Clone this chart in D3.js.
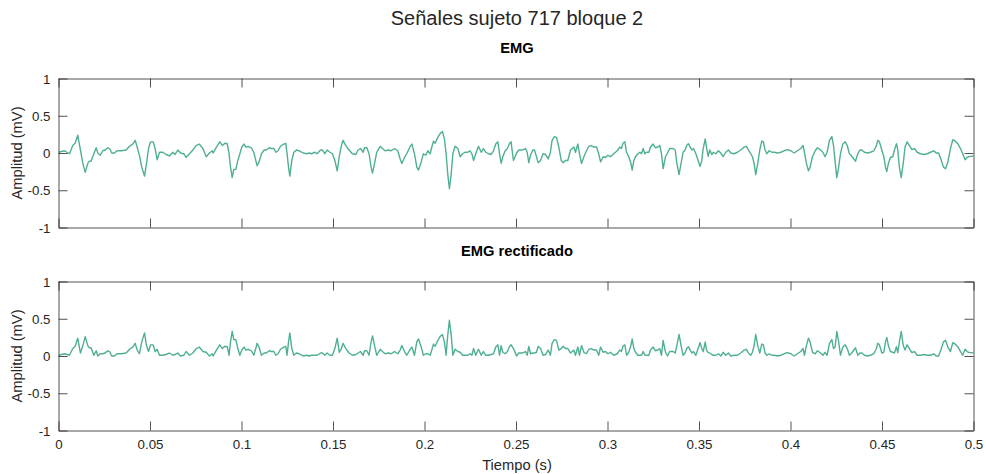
<!DOCTYPE html>
<html>
<head>
<meta charset="utf-8">
<script src="https://cdn.jsdelivr.net/npm/d3@7/dist/d3.min.js"></script>
<style>
  html, body { margin: 0; padding: 0; background: #fff; }
  svg { display: block; font-family: "Liberation Sans", Arial, Helvetica, sans-serif; }
</style>
</head>
<body>
<svg id="chart" width="986" height="474"></svg>
<script>
// Raw EMG trace: sample times (ms) and amplitude (mV)
const tMs = [
  0, 3.3, 6.0, 7.8, 9.1, 10.5, 12.0, 13.3, 14.6, 16.0, 16.9, 17.8, 19.3, 20.6, 21.5, 22.8, 24.2, 25.5, 26.9, 27.9,
  29.1, 30.6, 32.0, 34.2, 37.0, 38.8, 40.6, 41.9, 43.0, 44.2, 45.5, 47.0, 48.1, 49.2, 50.3, 51.7, 52.8, 53.9, 55.2, 57.0,
  58.8, 60.6, 62.5, 63.7, 65.2, 66.7, 68.5, 69.7, 71.6, 73.4, 75.2, 77.0, 78.9, 80.7, 82.5, 84.0,
  84.5, 86.3, 88.1, 89.6, 90.9, 92.2, 93.2, 94.0, 94.9, 95.8, 96.9, 98.0, 99.1, 100.2, 101.4, 102.4, 103.6, 105.4, 106.7, 107.8,
  108.5, 109.6, 110.9, 112.4, 113.6, 115.1, 116.4, 117.7, 118.7, 120.0, 121.3, 123.1, 124.2, 124.9, 125.7, 126.4, 127.5, 128.6, 130.0, 131.5,
  133.7, 135.5, 137.0, 138.2, 140.1, 141.3, 143.2, 144.2, 145.5, 146.8, 148.3, 149.7, 151.0, 152.3, 153.4, 154.6, 155.5, 157.0, 158.8, 160.6,
  162.5, 163.7, 165.0, 166.5,
  167.2, 168.5, 169.7, 170.8, 171.6, 172.7, 173.9, 175.8, 177.0, 178.5, 180.3, 181.8, 183.6, 185.4, 186.7, 187.6, 189.1, 190.3, 192.2, 193.1,
  194.5, 195.8, 196.7, 198.2, 199.4, 200.7, 201.8, 203.1, 204.0, 204.9, 205.8, 207.3, 208.5, 209.8, 210.9, 211.8, 212.7, 213.6, 214.6, 215.5,
  216.7, 218.2, 219.5, 220.8, 222.2, 223.7, 224.9, 225.9, 226.8, 228.0, 229.5, 231.0, 232.2, 233.5, 235.0, 236.4, 237.7, 239.0, 240.1, 241.0,
  241.9, 242.8, 244.1, 245.3, 246.4, 247.3, 248.6, 249.5,
  250.3, 251.5, 253.4, 255.2, 256.1, 257.0, 257.9, 259.2, 260.1, 261.2, 262.1, 263.4, 264.8, 266.1, 267.6, 268.8, 269.7, 271.0, 272.1, 273.4,
  274.7, 275.8, 277.0, 278.3, 279.8, 280.7, 281.6, 282.5, 283.8, 284.7, 285.8, 287.1, 288.5, 289.8, 291.1, 292.5, 294.0, 295.2, 296.2, 297.6,
  298.9, 300.2, 301.6, 303.4, 305.3, 306.7, 307.6, 308.5, 309.5, 310.4, 311.6, 312.6, 313.5, 314.4, 315.3, 316.6, 317.7, 318.6, 319.5, 320.4,
  321.3, 322.6, 323.5, 324.9, 326.2, 327.5, 328.6, 329.5, 330.4, 331.7,
  332.8, 334.0, 335.9, 337.0, 337.9, 339.1, 340.2, 341.3, 342.4, 343.3, 344.2, 345.2, 346.1, 347.0, 348.3, 349.5, 350.6, 351.5, 352.3, 353.4,
  354.1, 355.0, 355.9, 357.0, 357.9, 359.2, 360.6, 361.9, 363.2, 364.6, 366.1, 367.4, 369.2, 371.0, 372.8, 374.7, 375.9, 377.0, 378.3, 379.2,
  380.1, 381.0, 382.1, 383.2, 384.3, 385.2, 386.1, 387.1, 388.3, 389.8, 391.1, 392.9, 394.7, 396.5, 398.3, 400.2, 402.0, 403.8, 405.6, 406.9,
  407.6, 408.7, 409.8, 410.7, 412.0, 413.5, 414.7,
  416.4, 417.7, 418.9, 420.0, 421.3, 422.6, 423.5, 424.4, 425.3, 426.2, 427.3, 428.6, 429.9, 431.0, 432.2, 433.1, 434.6, 435.5, 436.8, 437.9,
  439.0, 440.4, 441.9, 443.7, 445.5, 446.8, 447.7, 448.6, 449.9, 451.0, 451.9, 452.6, 453.5, 454.6, 455.9, 456.8, 457.9, 458.6, 459.5, 460.5,
  461.6, 462.6, 463.7, 465.0, 466.3, 467.7, 469.2, 471.0, 472.8, 474.7, 476.5, 478.3, 479.6, 480.9, 482.3, 483.6, 484.7, 486.0, 487.4, 488.7,
  490.0, 491.4, 492.9, 494.1, 495.4, 496.5, 497.8, 498.7, 500.0
];
const emgMv = [
  0.01, 0.03, -0.01, 0.10, 0.13, 0.24, 0.04, -0.14, -0.26, -0.14, -0.11, -0.11, -0.01, 0.07, 0.00, -0.03, 0.03, 0.04, 0.07, 0.06,
  0.00, 0.00, 0.03, 0.03, 0.04, 0.09, 0.12, 0.17, 0.08, -0.03, -0.19, -0.31, -0.14, 0.06, 0.15, 0.15, 0.06, -0.09, 0.01, 0.01,
  -0.02, -0.04, 0.01, -0.02, 0.04, 0.00, -0.01, -0.06, -0.01, 0.04, 0.10, 0.12, 0.06, -0.05, 0.00, 0.03,
  0.00, 0.08, 0.15, 0.10, 0.13, 0.125, -0.01, -0.19, -0.33, -0.22, -0.22, -0.10, -0.01, 0.08, 0.12, 0.08, 0.09, 0.07, 0.01, -0.10,
  -0.17, -0.12, -0.01, 0.04, 0.04, 0.07, 0.06, 0.06, 0.01, 0.03, 0.09, 0.12, 0.13, -0.01, -0.19, -0.31, -0.10, 0.01, 0.04, 0.03,
  0.00, -0.01, 0.00, -0.01, 0.01, -0.01, 0.04, 0.04, -0.01, 0.04, 0.01, -0.01, -0.10, -0.24, -0.05, 0.10, 0.17, 0.10, 0.04, -0.01,
  -0.02, 0.04, 0.06, 0.01,
  0.07, 0.07, -0.01, -0.19, -0.27, -0.14, 0.01, 0.09, 0.06, 0.03, 0.04, 0.03, 0.06, 0.03, -0.08, -0.14, -0.06, -0.01, 0.09, 0.12,
  -0.01, -0.19, -0.23, -0.12, -0.01, -0.03, 0.03, -0.01, 0.08, 0.16, 0.13, 0.21, 0.26, 0.29, 0.19, -0.01, -0.28, -0.48, -0.28, -0.01,
  0.09, 0.06, -0.05, -0.01, 0.01, 0.01, 0.03, -0.01, -0.10, -0.01, 0.09, 0.01, 0.06, 0.01, -0.01, -0.02, 0.03, 0.125, 0.15, -0.01,
  -0.14, -0.05, 0.03, 0.06, 0.125, 0.15, -0.10, -0.05,
  0.00, 0.04, 0.04, 0.06, 0.01, -0.13, -0.03, 0.04, 0.04, -0.05, -0.13, -0.10, -0.01, -0.02, -0.08, 0.01, 0.17, 0.22, 0.21, 0.08,
  -0.10, -0.13, -0.10, -0.10, 0.04, 0.06, 0.08, 0.01, 0.12, -0.01, -0.14, -0.05, 0.03, 0.09, 0.10, 0.08, 0.08, -0.01, -0.12, -0.05,
  -0.06, -0.03, -0.05, -0.01, 0.03, 0.08, 0.06, 0.134, 0.15, 0.01, -0.05, -0.12, -0.23, -0.10, -0.05, -0.01, 0.01, -0.01, 0.06, -0.01,
  0.01, 0.01, 0.08, 0.12, 0.07, 0.08, 0.10, -0.01, -0.21, -0.05,
  0.00, 0.06, 0.06, 0.04, -0.14, -0.29, -0.14, 0.01, 0.04, 0.10, 0.125, 0.08, 0.04, 0.06, -0.01, -0.10, -0.18, -0.10, 0.06, 0.19,
  0.08, -0.045, 0.04, -0.02, 0.01, -0.01, 0.03, 0.00, -0.05, 0.01, 0.04, 0.00, -0.01, 0.01, 0.04, 0.08, 0.09, 0.04, -0.01, -0.05,
  -0.14, -0.29, -0.14, 0.04, 0.16, 0.15, 0.04, -0.01, 0.03, 0.01, 0.01, 0.00, 0.01, 0.03, 0.045, 0.03, 0.00, 0.03, 0.06, 0.10,
  0.01, -0.14, -0.24, -0.19, -0.05, 0.03, 0.07,
  0.04, 0.01, -0.05, 0.01, 0.17, 0.22, 0.10, -0.12, -0.33, -0.21, -0.01, 0.12, 0.15, 0.10, -0.01, -0.03, -0.08, -0.11, -0.01, 0.04,
  0.04, 0.01, 0.00, 0.01, 0.03, 0.09, 0.17, 0.15, 0.04, -0.05, -0.19, -0.25, -0.14, -0.06, -0.05, 0.04, 0.125, 0.045, -0.19, -0.33,
  -0.14, 0.08, 0.15, 0.10, 0.045, 0.06, 0.01, -0.01, -0.02, -0.01, 0.01, 0.03, 0.00, 0.00, -0.09, -0.19, -0.21, -0.12, 0.06, 0.18,
  0.16, 0.125, 0.06, -0.01, -0.09, -0.06, -0.045, -0.045, -0.04
];

// Axis ticks
const xTicks = [0, 0.05, 0.1, 0.15, 0.2, 0.25, 0.3, 0.35, 0.4, 0.45, 0.5];
const yTicks = [-1, -0.5, 0, 0.5, 1];

const mainTitle = "Señales sujeto 717 bloque 2";
const panelTitles = ["EMG", "EMG rectificado"];
const yLabel = "Amplitud (mV)";
const xLabel = "Tiempo (s)";

// Build sample tables: the rectified channel is |EMG|
const raw = tMs.map((t, i) => ({ t: t / 1000, v: emgMv[i] }));
const rect = raw.map(d => ({ t: d.t, v: Math.abs(d.v) }));

const svg = d3.select("#chart");
const left = 58.5, right = 973.5;
const panels = [
  { top: 78.5, bottom: 227.5, data: raw, title: panelTitles[0], xLabels: false },
  { top: 281.5, bottom: 430.5, data: rect, title: panelTitles[1], xLabels: true }
];

const x = d3.scaleLinear().domain([0, 0.5]).range([left, right]);
const lineColor = "#4faf95";
const axisColor = "#262626";
const tickLen = 9;
const fmt = d => String(+d.toFixed(2));

svg.append("text")
  .attr("x", (left + right) / 2 + 1)
  .attr("y", 25)
  .attr("text-anchor", "middle")
  .attr("font-size", 20)
  .attr("fill", "#262626")
  .text(mainTitle);

panels.forEach((p, idx) => {
  const y = d3.scaleLinear().domain([-1, 1]).range([p.bottom, p.top]);
  const g = svg.append("g");

  const clipId = "clip" + idx;
  g.append("clipPath").attr("id", clipId)
    .append("rect")
    .attr("x", left).attr("y", p.top)
    .attr("width", right - left).attr("height", p.bottom - p.top);

  const line = d3.line().x(d => x(d.t)).y(d => y(d.v));
  g.append("path")
    .datum(p.data)
    .attr("clip-path", `url(#${clipId})`)
    .attr("fill", "none")
    .attr("stroke", lineColor)
    .attr("stroke-width", 1.4)
    .attr("stroke-linejoin", "round")
    .attr("d", line);

  // Bottom and left axes (inward ticks)
  const xAxis = d3.axisBottom(x).tickValues(xTicks).tickSizeInner(-tickLen).tickSizeOuter(0)
    .tickPadding(9).tickFormat(p.xLabels ? fmt : () => "");
  const gx = g.append("g").attr("transform", `translate(0,${p.bottom})`).call(xAxis);
  const yAxis = d3.axisLeft(y).tickValues(yTicks).tickSizeInner(-tickLen).tickSizeOuter(0)
    .tickPadding(8).tickFormat(fmt);
  const gy = g.append("g").attr("transform", `translate(${left},0)`).call(yAxis);

  // Top and right axes of the box
  const xTop = d3.axisTop(x).tickValues(xTicks).tickSizeInner(-tickLen).tickSizeOuter(0).tickFormat(() => "");
  const gxt = g.append("g").attr("transform", `translate(0,${p.top})`).call(xTop);
  const yRight = d3.axisRight(y).tickValues(yTicks).tickSizeInner(-tickLen).tickSizeOuter(0).tickFormat(() => "");
  const gyr = g.append("g").attr("transform", `translate(${right},0)`).call(yRight);

  [gx, gy, gxt, gyr].forEach(a => {
    a.select(".domain").attr("stroke", axisColor).attr("stroke-width", 0.8);
    a.selectAll(".tick line").attr("stroke", axisColor).attr("stroke-width", 0.8);
    a.selectAll(".tick text")
      .attr("fill", axisColor)
      .attr("font-size", 13.3)
      .attr("font-family", "\"Liberation Sans\", Arial, sans-serif");
  });
  gy.selectAll(".tick text").attr("dy", "0.35em");

  g.append("text")
    .attr("x", (left + right) / 2 + 1)
    .attr("y", p.top - 26)
    .attr("text-anchor", "middle")
    .attr("font-size", 14.7)
    .attr("font-weight", "bold")
    .attr("fill", "#000")
    .text(p.title);

  g.append("text")
    .attr("transform", `translate(22,${(p.top + p.bottom) / 2}) rotate(-90)`)
    .attr("text-anchor", "middle")
    .attr("font-size", 14.7)
    .attr("fill", axisColor)
    .text(yLabel);
});

svg.append("text")
  .attr("x", (left + right) / 2 + 1)
  .attr("y", 470)
  .attr("text-anchor", "middle")
  .attr("font-size", 14.7)
  .attr("fill", axisColor)
  .text(xLabel);
</script>
</body>
</html>
